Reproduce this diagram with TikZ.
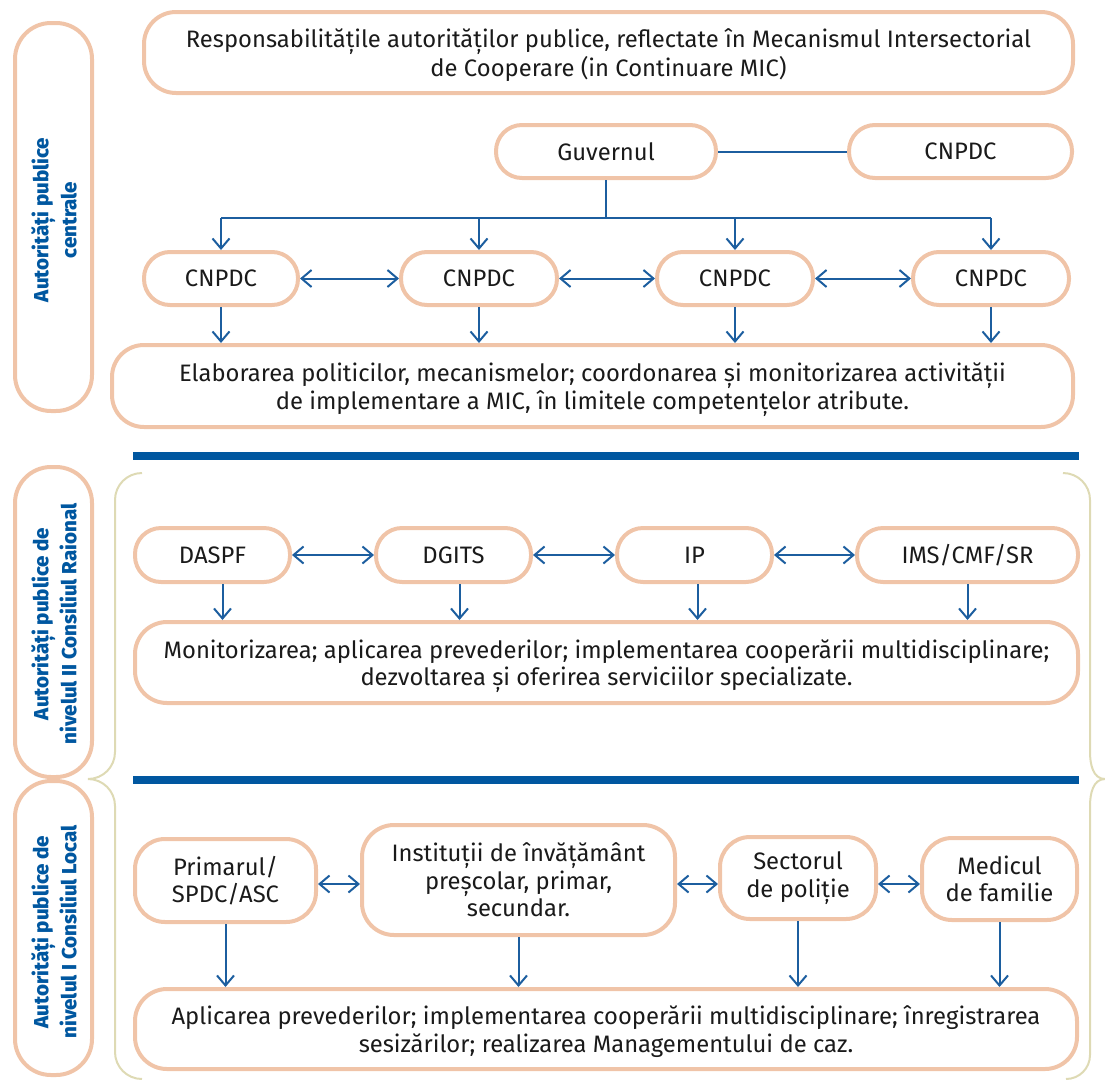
\documentclass[tikz,border=0pt]{standalone}
\usepackage{fontspec}
\setmainfont{Fira Sans}
\newfontfamily\labfont{Fira Sans ExtraBold}
\usetikzlibrary{arrows.meta,calc}
\definecolor{peach}{HTML}{F0C4A8}
\definecolor{dblue}{HTML}{0057A0}
\definecolor{ablue}{HTML}{1C5E9F}
\definecolor{olive}{HTML}{DEDAB4}
\definecolor{txt}{HTML}{1A1A1A}
\newcommand\twoline[1]{\raisebox{-4pt}[\height][\depth]{\begin{tabular}{@{}c@{}}#1\end{tabular}}}
\begin{document}
\begin{tikzpicture}[x=1pt,y=-1pt,
  box/.style={draw=peach,line width=4pt,rounded corners=26pt,inner sep=0pt,align=center,text=txt,
    font=\fontsize{23.8}{27.5}\selectfont},
  bigbox/.style={draw=peach,line width=4pt,rounded corners=32pt,inner sep=0pt,text=txt,
    font=\fontsize{23.8}{27.5}\selectfont},
  lab/.style={draw=peach,line width=4pt,rounded corners=36pt,inner sep=0pt,minimum width=77pt},
  labtxt/.style={rotate=90,align=center,text=dblue,font=\labfont\fontsize{20.5}{28}\selectfont},
  conn/.style={draw=ablue,line width=2pt},
  arr/.style={conn,-{Straight Barb[length=10pt,width=17pt]}},
  darr/.style={conn,{Straight Barb[length=10pt,width=17pt]}-{Straight Barb[length=10pt,width=17pt]}},
  bar/.style={draw=dblue,line width=7.5pt},
  brace/.style={draw=olive,line width=2pt}]
\useasboundingbox (0,0) rectangle (1105,1079);
% left label boxes
\node[lab,minimum height=388pt] (L1) at (53.5,217) {};
\node[labtxt] (L1t) at (54,220) {Autorități publice\\centrale};
\node[lab,minimum height=310pt] (L2) at (53.5,622) {};
\node[labtxt] (L2t) at (54,624) {Autorități publice de\\nivelul II Consiliul Raional};
\node[lab,minimum height=294pt] (L3) at (53.5,928) {};
\node[labtxt] (L3t) at (54,932) {Autorități publice de\\nivelul I Consiliul Local};
% braces
\draw[brace] (142,473) to[out=180,in=90] (115,500) -- (115,752) to[out=-90,in=0] (88,779)
  to[out=0,in=90] (115,806) -- (115,1052) to[out=-90,in=180] (142,1079);
\draw[brace] (1063,473) to[out=0,in=90] (1090,500) -- (1090,752) to[out=-90,in=180] (1105,779)
  to[out=180,in=90] (1090,806) -- (1090,1055) to[out=-90,in=0] (1066,1079);
% bars
\coordinate (b1a) at (133,456); \coordinate (b1b) at (1079,456);
\coordinate (b2a) at (133,780); \coordinate (b2b) at (1079,780);
\draw[bar] (b1a) -- (b1b);
\draw[bar] (b2a) -- (b2b);
% section 1
\node[bigbox,minimum width=929pt,minimum height=81pt] (top) at (608.5,52.5)
  {\twoline{Responsabilitățile autorităților publice, reflectate în Mecanismul Intersectorial\\de Cooperare (in Continuare MIC)}};
\node[box,minimum width=220pt,minimum height=53pt] (gov) at (606,151.5) {Guvernul};
\node[box,minimum width=223pt,minimum height=53pt] (cr) at (960.5,151.5) {CNPDC};
\node[box,minimum width=154pt,minimum height=53pt] (c1) at (221,278.5) {CNPDC};
\node[box,minimum width=156pt,minimum height=53pt] (c2) at (479,278.5) {CNPDC};
\node[box,minimum width=156pt,minimum height=53pt] (c3) at (735,278.5) {CNPDC};
\node[box,minimum width=156pt,minimum height=53pt] (c4) at (991,278.5) {CNPDC};
\node[bigbox,minimum width=961pt,minimum height=82pt] (elab) at (592.5,386)
  {\twoline{Elaborarea politicilor, mecanismelor; coordonarea și monitorizarea activității\\de implementare a MIC, în limitele competențelor atribute.}};
\coordinate (hub) at (606,218);
\draw[conn] (gov.east) -- (cr.west);
\draw[conn] (gov.south) -- (hub);
\draw[conn] (c1.north |- hub) -- (c4.north |- hub);
\foreach \n in {c1,c2,c3,c4}{
  \draw[arr] (\n.north |- hub) -- (\n.north);
  \draw[arr] (\n.south) -- (\n.south |- elab.north);
}
\draw[darr] (c1.east) -- (c2.west);
\draw[darr] (c2.east) -- (c3.west);
\draw[darr] (c3.east) -- (c4.west);
% section 2
\node[box,minimum width=155pt,minimum height=54pt] (daspf) at (212.5,555) {DASPF};
\node[box,minimum width=155pt,minimum height=54pt] (dgits) at (453.5,555) {DGITS};
\node[box,minimum width=155pt,minimum height=54pt] (ip) at (694.5,555) {IP};
\node[box,minimum width=221pt,minimum height=54pt] (ims) at (967.5,555) {IMS/CMF/SR};
\node[bigbox,minimum width=943pt,minimum height=81pt] (mon) at (606.5,662.5)
  {\twoline{Monitorizarea; aplicarea prevederilor; implementarea cooperării multidisciplinare;\\dezvoltarea și oferirea serviciilor specializate.}};
\draw[darr] (daspf.east) -- (dgits.west);
\draw[darr] (dgits.east) -- (ip.west);
\draw[darr] (ip.east) -- (ims.west);
\draw[arr] ([xshift=10pt]daspf.south) -- ([xshift=10pt]daspf.south |- mon.north);
\draw[arr] ([xshift=6pt]dgits.south) -- ([xshift=6pt]dgits.south |- mon.north);
\draw[arr] ([xshift=3pt]ip.south) -- ([xshift=3pt]ip.south |- mon.north);
\draw[arr] (ims.south) -- (ims.south |- mon.north);
% section 3
\node[box,minimum width=181pt,minimum height=83pt,rounded corners=30pt] (prim) at (225.5,880.5) {Primarul/\\SPDC/ASC};
\node[box,minimum width=313pt,minimum height=110pt,rounded corners=32pt] (inst) at (518.5,880) {Instituții de învățământ\\preșcolar, primar,\\secundar.};
\node[box,minimum width=156pt,minimum height=82pt,rounded corners=30pt] (sect) at (798,878) {Sectorul\\de poliție};
\node[box,minimum width=155pt,minimum height=82pt,rounded corners=30pt] (med) at (999.5,879) {Medicul\\de familie};
\node[bigbox,minimum width=942pt,minimum height=80pt] (apl) at (606,1029)
  {\twoline{Aplicarea prevederilor; implementarea cooperării multidisciplinare; înregistrarea\\sesizărilor; realizarea Managementului de caz.}};
\coordinate (r3) at (0,884);
\draw[darr] (prim.east |- r3) -- (inst.west |- r3);
\draw[darr] (inst.east |- r3) -- (sect.west |- r3);
\draw[darr] (sect.east |- r3) -- (med.west |- r3);
\foreach \n in {prim,inst,sect,med}{
  \draw[arr] (\n.south) -- (\n.south |- apl.north);
}
\end{tikzpicture}
\end{document}
